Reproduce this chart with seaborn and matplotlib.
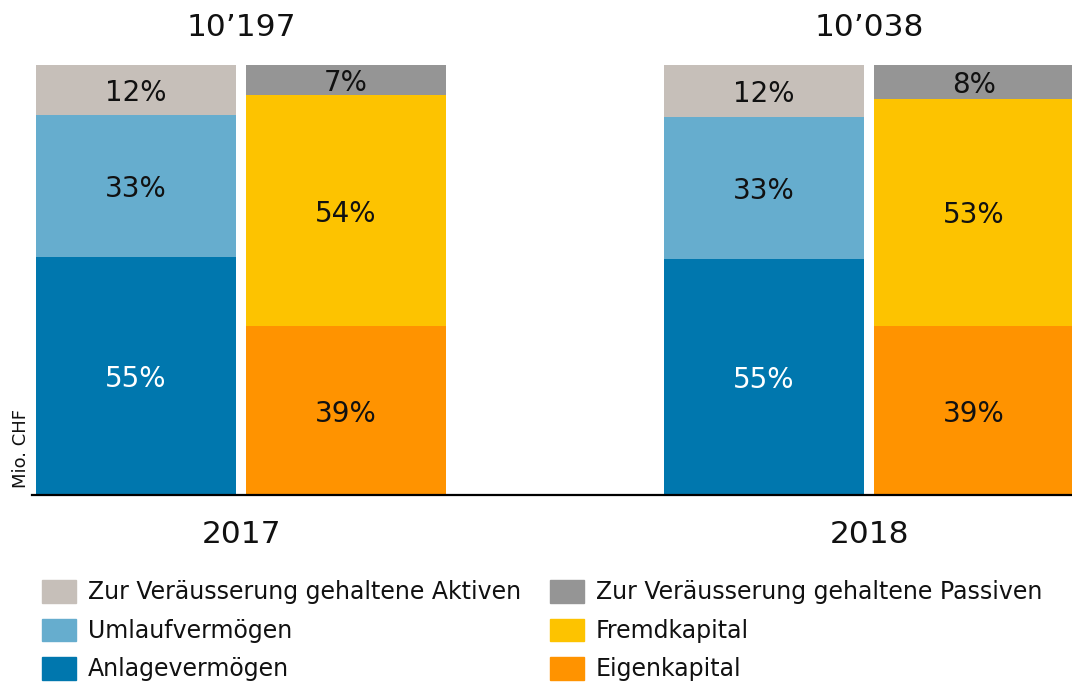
import numpy as np
import matplotlib.pyplot as plt
import seaborn as sns
from matplotlib.patches import Patch

sns.set_theme(style="white")
plt.rcParams['font.family'] = ['DejaVu Sans']

years = ['2017', '2018']
totals = [10197, 10038]   # Mio. CHF, Bilanzsumme

# Anteile in %, von unten nach oben
anlage = [55.3, 54.9]
umlauf = [33.0, 33.0]
aktiven_hfs = [11.7, 12.1]
eigen = [39.3, 39.3]
fremd = [53.7, 52.8]
passiven_hfs = [7.0, 7.9]

aktiven_names = ['Anlagevermögen', 'Umlaufvermögen', 'Zur Veräusserung gehaltene Aktiven']
passiven_names = ['Eigenkapital', 'Fremdkapital', 'Zur Veräusserung gehaltene Passiven']

aktiven_colors = ['#0077AE', '#66ADCE', '#C6BFB9']
passiven_colors = ['#FF9300', '#FDC300', '#959595']
text_colors = {'#0077AE': 'white'}

fig = plt.figure(figsize=(10.72, 6.83), dpi=100)
ax = fig.add_axes([32 / 1072, (683 - 495) / 683, (1072 - 32) / 1072, 430 / 683])

group_x = np.array([0.525, 3.665])
offset = 0.525


def stack(xpos, layers, colors):
    bottom = np.zeros(len(xpos))
    for vals, c in zip(layers, colors):
        vals = np.array(vals)
        ax.bar(xpos, vals, bottom=bottom, width=1.0, color=c, linewidth=0)
        for x, b, v in zip(xpos, bottom, vals):
            ax.text(x, b + v / 2, f"{round(v)}%", ha='center', va='center_baseline',
                    fontsize=20, color=text_colors.get(c, '#111111'))
        bottom += vals


stack(group_x - offset, [anlage, umlauf, aktiven_hfs], aktiven_colors)
stack(group_x + offset, [eigen, fremd, passiven_hfs], passiven_colors)

for x, t in zip(group_x, totals):
    ax.text(x, 108.8, f"{t // 1000}’{t % 1000:03d}", ha='center', va='center',
            fontsize=22.5, color='#111111', clip_on=False)

ax.set_xlim(-0.52, 4.68)
ax.set_ylim(0, 100)
ax.set_xticks(group_x)
ax.set_xticklabels(years, fontsize=22.5, color='#111111')
ax.tick_params(axis='x', length=0, pad=18)
ax.set_yticks([])
sns.despine(ax=ax, left=True, top=True, right=True)
ax.spines['bottom'].set_color('black')
ax.spines['bottom'].set_linewidth(1.6)

fig.text(21 / 1072, 1 - 449 / 683, 'Mio. CHF', rotation=90, ha='center',
         va='center', fontsize=13, color='#111111')

handles = [Patch(color=c, label=n) for c, n in
           zip(aktiven_colors[::-1] + passiven_colors[::-1],
               aktiven_names[::-1] + passiven_names[::-1])]
fig.legend(handles=handles, loc='upper left', bbox_to_anchor=(42 / 1072, 1 - 580 / 683),
           ncol=2, frameon=False, fontsize=17, handlelength=1.44, handleheight=1.1,
           handletextpad=0.5, columnspacing=1.23, labelspacing=0.6,
           borderpad=0, borderaxespad=0, labelcolor='#111111')

fig.savefig('out.png', dpi=100)
